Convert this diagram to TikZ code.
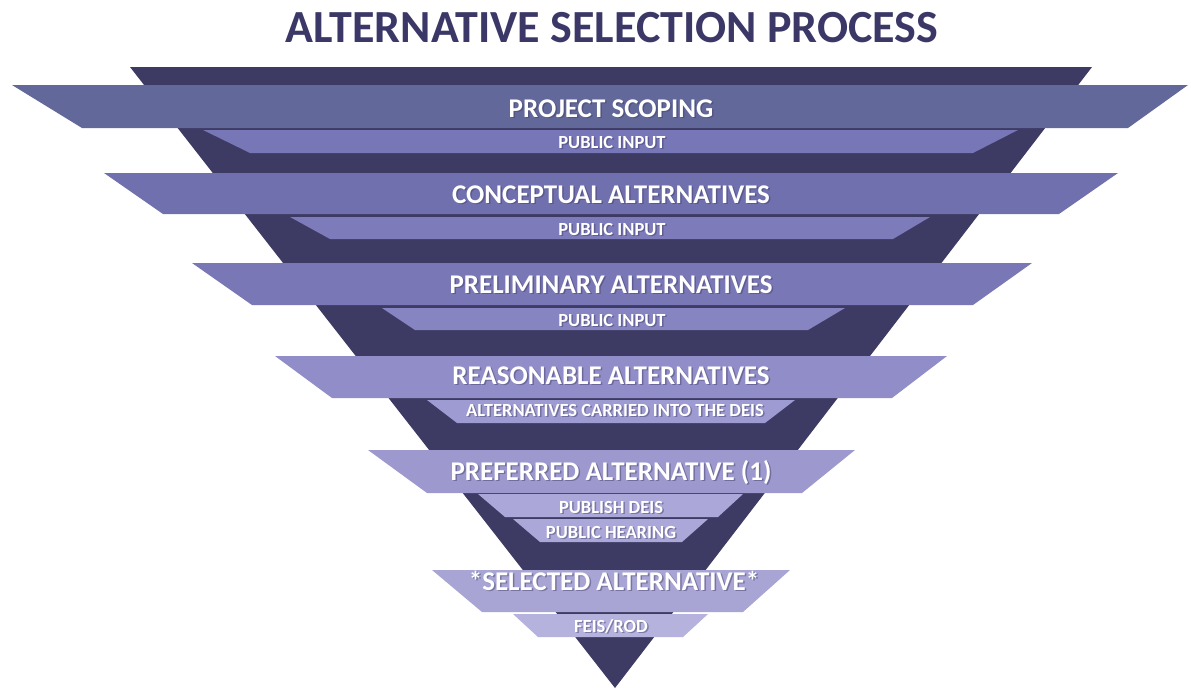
\documentclass[tikz,border=0pt]{standalone}
\usepackage{fontspec}
\setmainfont{Carlito}
\definecolor{funnel}{HTML}{3D3A63}
\definecolor{titlecol}{HTML}{3B3868}
\definecolor{bandA}{HTML}{626899}
\definecolor{bandB}{HTML}{7070AF}
\definecolor{bandC}{HTML}{7977B6}
\definecolor{bandD}{HTML}{918DC8}
\definecolor{bandE}{HTML}{9D99CF}
\definecolor{bandF}{HTML}{A8A5D5}
\definecolor{subA}{HTML}{7776B6}
\definecolor{subB}{HTML}{7D7BBA}
\definecolor{subC}{HTML}{8684C1}
\definecolor{subD}{HTML}{9E9BD2}
\definecolor{subE}{HTML}{ABA8D9}
\definecolor{subF}{HTML}{B5B2DE}
% band: colour, top y, bottom y, top-left x, top-right x, bottom-left x, bottom-right x
\newcommand\drawband[7]{\fill[#1] (#4,#2) -- (#5,#2) -- (#7,#3) -- (#6,#3) -- cycle;}
% white label with a soft drop shadow: style, name, x, baseline y, text
\newcommand\stagelabel[5]{%
  \node[#1, text=funnel, opacity=0.45] (#2s) at (#3+1.5,#4+1.5) {#5};
  \node[#1] (#2) at (#3,#4) {#5};}
\begin{document}
\begin{tikzpicture}[x=1pt,y=-1pt,
  maintxt/.style={font=\bfseries\fontsize{27}{27}\selectfont, text=white, anchor=base, inner sep=0pt},
  subtxt/.style={font=\bfseries\fontsize{18.5}{18.5}\selectfont, text=white, anchor=base, inner sep=0pt}]
\useasboundingbox (0,0) rectangle (1191,689);
\fill[white] (0,0) rectangle (1191,689);

\node[font=\bfseries\fontsize{46}{46}\selectfont, text=titlecol, anchor=base, inner sep=0pt] (title) at (612,42) {ALTERNATIVE SELECTION PROCESS};

% the funnel behind the bands
\fill[funnel] (130,67) -- (1092,67) -- (615,688) -- cycle;

% stages
\drawband{bandA}{85}{128}{12}{1188}{82}{1128}
\drawband{subA}{130}{153}{203}{1018}{250}{973}
\drawband{bandB}{173}{214}{104}{1118}{163}{1059}
\drawband{subB}{217}{239}{290}{930}{330}{893}
\drawband{bandC}{263}{305}{192}{1032}{252}{973}
\drawband{subC}{308}{330}{382}{845}{415}{808}
\drawband{bandD}{356}{398}{275}{947}{332}{892}
\drawband{subD}{400}{423}{427}{795}{457}{765}
\drawband{bandE}{450}{493}{368}{855}{427}{802}
\drawband{subE}{494}{517}{478}{743}{505}{718}
\drawband{subE}{519}{542}{513}{708}{540}{682}
\drawband{bandF}{570}{612}{432}{790}{482}{743}
\drawband{subF}{614}{637}{513}{708}{538}{683}

% labels
\stagelabel{maintxt}{s1}{611}{117}{PROJECT SCOPING}
\stagelabel{subtxt}{p1}{612}{148}{PUBLIC INPUT}
\stagelabel{maintxt}{s2}{611}{203}{CONCEPTUAL ALTERNATIVES}
\stagelabel{subtxt}{p2}{612}{235}{PUBLIC INPUT}
\stagelabel{maintxt}{s3}{611}{293}{PRELIMINARY ALTERNATIVES}
\stagelabel{subtxt}{p3}{612}{326}{PUBLIC INPUT}
\stagelabel{maintxt}{s4}{611}{384}{REASONABLE ALTERNATIVES}
\stagelabel{subtxt}{p4}{615}{416}{ALTERNATIVES CARRIED INTO THE DEIS}
\stagelabel{maintxt}{s5}{611}{480}{PREFERRED ALTERNATIVE (1)}
\stagelabel{subtxt}{p5}{611}{513}{PUBLISH DEIS}
\stagelabel{subtxt}{p6}{611}{538}{PUBLIC HEARING}
\stagelabel{maintxt}{s6}{614}{590}{*SELECTED ALTERNATIVE*}
\stagelabel{subtxt}{p7}{611}{632}{FEIS/ROD}
\end{tikzpicture}
\end{document}
